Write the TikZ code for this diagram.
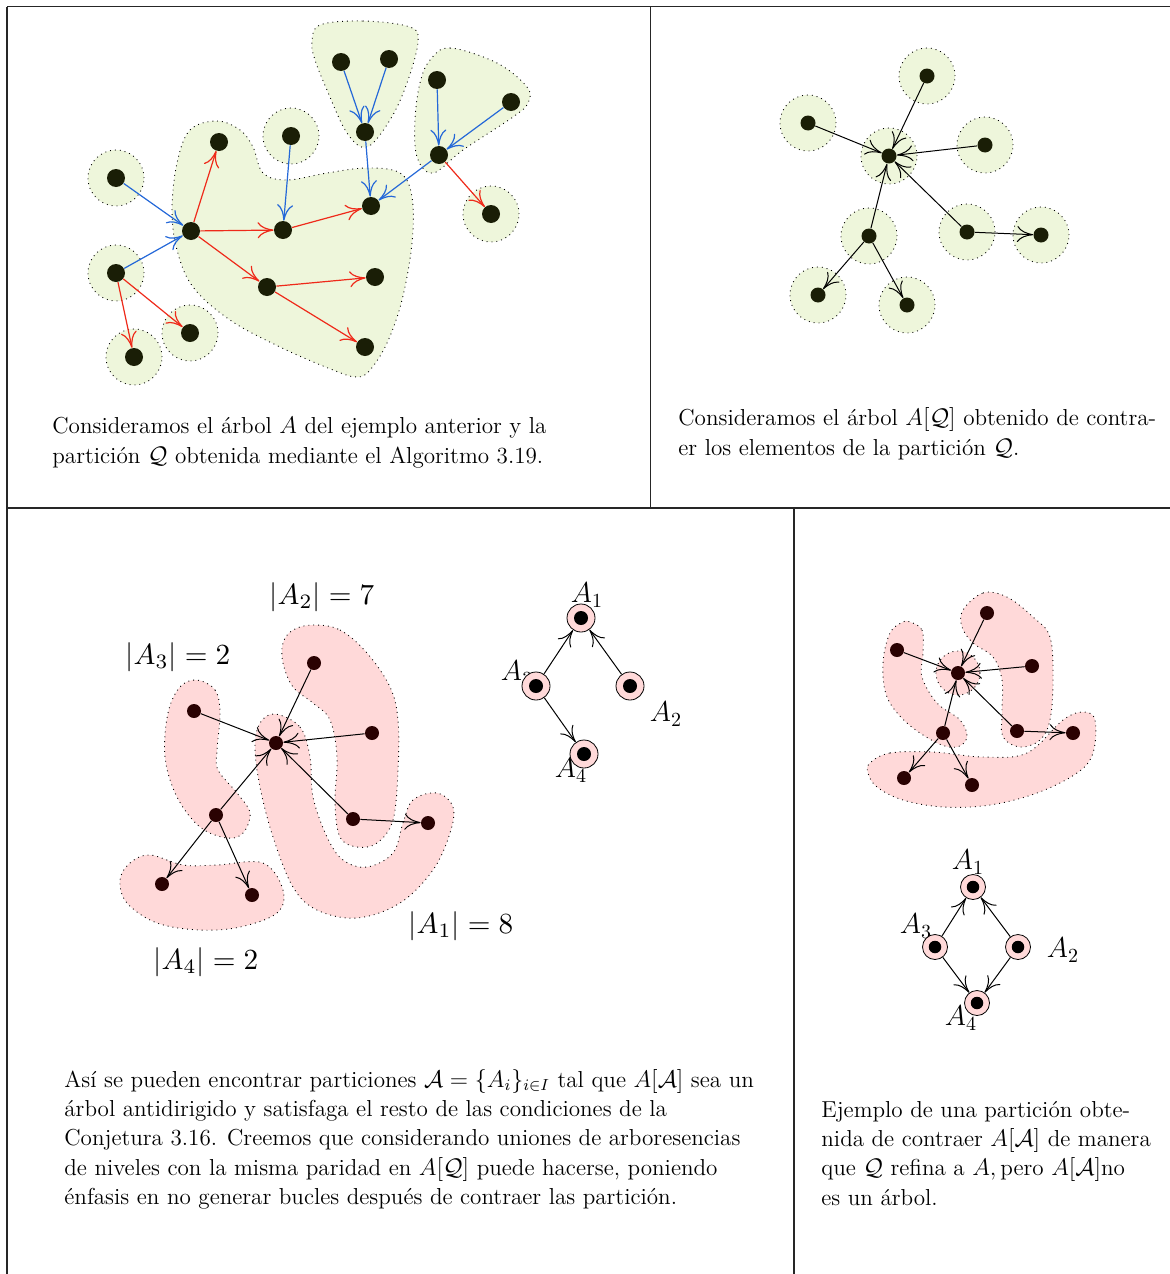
\documentclass[tikz,border=0pt]{standalone}
\usepackage{graphicx}
\usetikzlibrary{arrows.meta,backgrounds}
\definecolor{regG}{HTML}{EEF6DB}
\definecolor{regR}{HTML}{FFD9D9}
\definecolor{dkG}{HTML}{1A1E06}
\definecolor{dkR}{HTML}{2A0202}
\definecolor{arrB}{HTML}{2468D8}
\definecolor{arrR}{HTML}{EE2A1A}
\begin{document}
\begin{tikzpicture}[x=0.5pt,y=-0.5pt,
 tabrule/.style={line width=0.6pt, draw=black!85},
 greg/.style={fill=regG, draw=black, dotted, line width=0.45pt},
 rreg/.style={fill=regR, draw=black, dotted, line width=0.45pt},
 gdot/.style={circle, fill=dkG, inner sep=0pt, minimum size=9pt},
 gdots/.style={circle, fill=dkG, inner sep=0pt, minimum size=7.5pt},
 rdot/.style={circle, fill=dkR, inner sep=0pt, minimum size=7pt},
 ringnode/.style={circle, draw=black, line width=0.4pt, fill=regR, inner sep=0pt, minimum size=#1,
   path picture={\fill[black] (path picture bounding box.center) circle (#1/4);}},
 arrtip/.style={-{Computer Modern Rightarrow[length=8pt,width=8pt]}},
 barrow/.style={arrtip, draw=arrB, line width=0.6pt},
 rarrow/.style={arrtip, draw=arrR, line width=0.6pt},
 karrow/.style={arrtip, draw=black, line width=0.5pt},
 captxt/.style={anchor=base west, inner sep=0pt, font=\fontsize{11.55}{14}\selectfont},
 biglab/.style={inner sep=0pt},
 treelab/.style={font=\Large, inner sep=0pt},
]
\useasboundingbox (0,0) rectangle (1170,1274);

% table rules
\draw[tabrule] (7,6.5) -- (1170,6.5);
\draw[tabrule] (7,6.5) -- (7,1274);
\draw[tabrule] (650.5,6.5) -- (650.5,508);
\draw[tabrule] (7,508) -- (1170,508);
\draw[tabrule] (794,508) -- (794,1274);

% ---------- Panel 1 ----------
\node[gdot] (a1) at (116,178) {};
\node[gdot] (a2) at (191,231) {};
\node[gdot] (a3) at (116,273) {};
\node[gdot] (a4) at (134,357) {};
\node[gdot] (a5) at (190,333) {};
\node[gdot] (a6) at (219,142) {};
\node[gdot] (a7) at (291,136) {};
\node[gdot] (a8) at (283,230) {};
\node[gdot] (a9) at (267,287) {};
\node[gdot] (a10) at (371,206) {};
\node[gdot] (a11) at (375,277) {};
\node[gdot] (a12) at (365,347) {};
\node[gdot] (a13) at (341,62) {};
\node[gdot] (a14) at (389,59) {};
\node[gdot] (a15) at (365,132) {};
\node[gdot] (a16) at (437,80) {};
\node[gdot] (a17) at (511,102) {};
\node[gdot] (a18) at (439,155) {};
\node[gdot] (a19) at (491,214) {};

\begin{scope}[on background layer]
 \draw[greg] plot[smooth cycle, tension=0.6] coordinates {(190,130) (217,121) (240,130) (253,147) (263,173) (287,180) (327,173) (367,168) (400,173) (412,197) (412,243) (402,300) (387,343) (370,370) (357,377) (333,370) (280,347) (230,320) (193,287) (177,250) (172,210) (177,163)};
 \draw[greg] plot[smooth cycle, tension=0.6] coordinates {(320,25) (363,21) (410,27) (418,42) (407,83) (390,120) (367,147) (347,133) (327,90) (315,60) (312,42)};
 \draw[greg] plot[smooth cycle, tension=0.6] coordinates {(430,60) (450,48) (497,63) (527,87) (528,103) (513,117) (463,150) (433,173) (417,157) (415,120) (420,83)};
 \foreach \n in {a1,a3,a4,a5,a7,a19} \draw[greg] (\n) circle (14pt);
\end{scope}

\draw[barrow] (a1) -- (a2);
\draw[barrow] (a3) -- (a2);
\draw[barrow] (a7) -- (a8);
\draw[barrow] (a13) -- (a15);
\draw[barrow] (a14) -- (a15);
\draw[barrow] (a15) -- (a10);
\draw[barrow] (a16) -- (a18);
\draw[barrow] (a17) -- (a18);
\draw[barrow] (a18) -- (a10);
\draw[rarrow] (a2) -- (a6);
\draw[rarrow] (a2) -- (a8);
\draw[rarrow] (a2) -- (a9);
\draw[rarrow] (a8) -- (a10);
\draw[rarrow] (a9) -- (a11);
\draw[rarrow] (a9) -- (a12);
\draw[rarrow] (a3) -- (a4);
\draw[rarrow] (a3) -- (a5);
\draw[rarrow] (a18) -- (a19);

\node[captxt] (p1a) at (52,433) {Consideramos el árbol $A$ del ejemplo anterior y la};
\node[captxt] (p1b) at (52,463) {partición $\mathcal{Q}$ obtenida mediante el Algoritmo 3.19.};

% ---------- Panel 2 ----------
\node[gdots] (b0) at (889,156) {};
\node[gdots] (b1) at (927,76) {};
\node[gdots] (b2) at (808,123) {};
\node[gdots] (b3) at (985,145) {};
\node[gdots] (b4) at (869,236) {};
\node[gdots] (b5) at (818,295) {};
\node[gdots] (b6) at (907,305) {};
\node[gdots] (b7) at (967,232) {};
\node[gdots] (b8) at (1041,235) {};
\begin{scope}[on background layer]
 \foreach \n in {b0,b1,b2,b3,b4,b5,b6,b7,b8} \draw[greg] (\n) circle (14pt);
\end{scope}
\draw[karrow] (b1) -- (b0);
\draw[karrow] (b2) -- (b0);
\draw[karrow] (b3) -- (b0);
\draw[karrow] (b4) -- (b0);
\draw[karrow] (b7) -- (b0);
\draw[karrow] (b4) -- (b5);
\draw[karrow] (b4) -- (b6);
\draw[karrow] (b7) -- (b8);

\node[captxt] (p2a) at (678,425) {Consideramos el árbol $A[\mathcal{Q}]$ obtenido de contra-};
\node[captxt] (p2b) at (678,455) {er los elementos de la partición $\mathcal{Q}$.};

% ---------- Panel 3 ----------
\node[rdot] (c0) at (276,743) {};
\node[rdot] (c1) at (314,663) {};
\node[rdot] (c2) at (194,711) {};
\node[rdot] (c3) at (372,733) {};
\node[rdot] (c4) at (216,815) {};
\node[rdot] (c5) at (353,819) {};
\node[rdot] (c6) at (428,823) {};
\node[rdot] (c7) at (162,884) {};
\node[rdot] (c8) at (252,895) {};
\begin{scope}[on background layer]
 \draw[rreg] plot[smooth cycle, tension=0.6] coordinates {(275,714) (300,727) (310,757) (313,797) (327,837) (343,860) (367,867) (393,853) (403,823) (413,800) (437,793) (453,807) (450,833) (433,870) (400,903) (357,918) (317,910) (293,887) (273,837) (260,787) (255,747) (260,723)};
 \draw[rreg] plot[smooth cycle, tension=0.6] coordinates {(313,625) (340,630) (367,653) (390,687) (398,720) (398,770) (393,820) (377,843) (357,847) (340,837) (335,803) (337,757) (330,720) (313,703) (293,687) (283,663) (283,643) (293,630)};
 \draw[rreg] plot[smooth cycle, tension=0.6] coordinates {(197,680) (215,690) (220,713) (217,750) (218,770) (237,793) (250,813) (243,833) (227,838) (200,827) (177,797) (165,757) (168,713) (180,687)};
 \draw[rreg] plot[smooth cycle, tension=0.6] coordinates {(120,880) (130,863) (150,855) (183,865) (217,865) (263,863) (283,890) (277,913) (240,927) (200,930) (157,923) (127,903)};
\end{scope}
\draw[karrow] (c1) -- (c0);
\draw[karrow] (c2) -- (c0);
\draw[karrow] (c3) -- (c0);
\draw[karrow] (c4) -- (c0);
\draw[karrow] (c5) -- (c0);
\draw[karrow] (c5) -- (c6);
\draw[karrow] (c4) -- (c7);
\draw[karrow] (c4) -- (c8);

\node[biglab] (l2) at (322,597) {\scalebox{1.46}{$|A_2| = 7$}};
\node[biglab] (l3) at (178,657) {\scalebox{1.46}{$|A_3| = 2$}};
\node[biglab] (l1) at (461,926) {\scalebox{1.46}{$|A_1| = 8$}};
\node[biglab] (l4) at (206,962) {\scalebox{1.46}{$|A_4| = 2$}};

\node[treelab] (tl1) at (587,595) {$A_1$};
\node[treelab] (tl3) at (517,673) {$A_3$};
\node[treelab] (tl2) at (666,714) {$A_2$};
\node[treelab] (tl4) at (571,770) {$A_4$};
\node[ringnode=14pt] (t1) at (581,618) {};
\node[ringnode=14pt] (t3) at (536,686) {};
\node[ringnode=14pt] (t2) at (630,686) {};
\node[ringnode=14pt] (t4) at (584,754) {};
\draw[karrow] (t3) -- (t1);
\draw[karrow] (t2) -- (t1);
\draw[karrow] (t3) -- (t4);

\node[captxt] (p3a) at (64,1087) {Así se pueden encontrar particiones $\mathcal{A} = \{A_i\}_{i\in I}$ tal que $A[\mathcal{A}]$ sea un};
\node[captxt] (p3b) at (64,1116) {árbol antidirigido y satisfaga el resto de las condiciones de la};
\node[captxt] (p3c) at (64,1145) {Conjetura 3.16. Creemos que considerando uniones de arboresencias};
\node[captxt] (p3d) at (64,1175) {de niveles con la misma paridad en $A[\mathcal{Q}]$ puede hacerse, poniendo};
\node[captxt] (p3e) at (64,1204) {énfasis en no generar bucles después de contraer las partición.};

% ---------- Panel 4 ----------
\node[rdot] (d0) at (958,673) {};
\node[rdot] (d1) at (987,613) {};
\node[rdot] (d2) at (897,650) {};
\node[rdot] (d3) at (1032,666) {};
\node[rdot] (d4) at (943,733) {};
\node[rdot] (d5) at (1017,731) {};
\node[rdot] (d6) at (1073,733) {};
\node[rdot] (d7) at (904,778) {};
\node[rdot] (d8) at (972,785) {};
\begin{scope}[on background layer]
 \draw[rreg] plot[smooth cycle, tension=0.6] coordinates {(963,610) (983,593) (1007,597) (1033,617) (1050,637) (1053,680) (1050,720) (1040,740) (1020,747) (1003,737) (1002,713) (1002,680) (993,657) (973,643) (962,627)};
 \draw[rreg] plot[smooth cycle, tension=0.6] coordinates {(910,622) (922,630) (923,653) (922,677) (937,703) (960,720) (967,737) (957,747) (937,743) (907,723) (887,697) (883,663) (890,633) (903,622)};
 \draw[rreg] plot[smooth cycle, tension=0.6] coordinates {(870,763) (890,753) (933,752) (983,757) (1027,753) (1063,720) (1083,712) (1095,720) (1093,753) (1077,773) (1037,793) (990,805) (943,807) (903,800) (877,787) (868,773)};
 \draw[rreg] (d0) circle (11pt);
\end{scope}
\draw[karrow] (d1) -- (d0);
\draw[karrow] (d2) -- (d0);
\draw[karrow] (d3) -- (d0);
\draw[karrow] (d4) -- (d0);
\draw[karrow] (d5) -- (d0);
\draw[karrow] (d5) -- (d6);
\draw[karrow] (d4) -- (d7);
\draw[karrow] (d4) -- (d8);

\node[treelab] (sl1) at (968,862) {$A_1$};
\node[treelab] (sl3) at (916,926) {$A_3$};
\node[treelab] (sl2) at (1063,950) {$A_2$};
\node[treelab] (sl4) at (961,1018) {$A_4$};
\node[ringnode=12.5pt] (s1) at (973,887) {};
\node[ringnode=12.5pt] (s3) at (935,947) {};
\node[ringnode=12.5pt] (s2) at (1018,947) {};
\node[ringnode=12.5pt] (s4) at (977,1003) {};
\draw[karrow] (s3) -- (s1);
\draw[karrow] (s2) -- (s1);
\draw[karrow] (s3) -- (s4);
\draw[karrow] (s2) -- (s4);

\node[captxt] (p4a) at (821,1117) {Ejemplo de una partición obte-};
\node[captxt] (p4b) at (821,1146) {nida de contraer $A[\mathcal{A}]$ de manera};
\node[captxt] (p4c) at (821,1175) {que $\mathcal{Q}$ refina a $A,\,$pero $A[\mathcal{A}]$no};
\node[captxt] (p4d) at (821,1205) {es un árbol.};
\end{tikzpicture}
\end{document}
